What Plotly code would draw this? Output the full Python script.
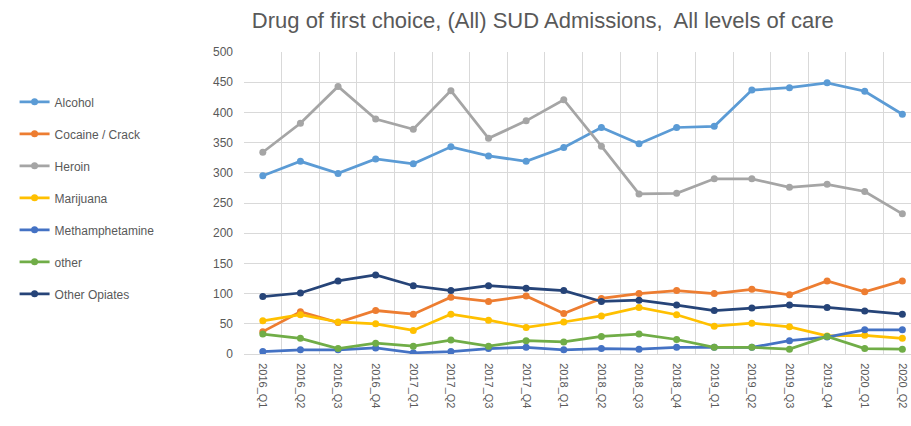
import plotly.graph_objects as go

quarters = ["2016_Q1", "2016_Q2", "2016_Q3", "2016_Q4", "2017_Q1", "2017_Q2",
            "2017_Q3", "2017_Q4", "2018_Q1", "2018_Q2", "2018_Q3", "2018_Q4",
            "2019_Q1", "2019_Q2", "2019_Q3", "2019_Q4", "2020_Q1", "2020_Q2"]

alcohol = [295, 319, 299, 323, 315, 343, 328, 319, 342, 375, 348, 375, 377, 437, 441, 449, 435, 397]
cocaine = [37, 70, 52, 72, 66, 94, 87, 96, 67, 92, 100, 105, 100, 107, 98, 121, 103, 121]
heroin = [334, 382, 443, 389, 372, 436, 357, 386, 421, 344, 265, 266, 290, 290, 276, 281, 269, 232]
marijuana = [55, 65, 53, 50, 39, 66, 56, 44, 53, 63, 77, 65, 46, 51, 45, 30, 31, 26]
meth = [4, 7, 7, 10, 2, 4, 9, 11, 7, 9, 8, 11, 11, 11, 22, 28, 40, 40]
other = [33, 26, 9, 18, 13, 23, 13, 22, 20, 29, 33, 24, 11, 11, 8, 29, 9, 8]
other_opiates = [95, 101, 121, 131, 113, 105, 113, 109, 105, 87, 89, 81, 72, 76, 81, 77, 71, 66]

series = [
    ("Alcohol", alcohol, "#5B9BD5"),
    ("Cocaine / Crack", cocaine, "#ED7D31"),
    ("Heroin", heroin, "#A5A5A5"),
    ("Marijuana", marijuana, "#FFC000"),
    ("Methamphetamine", meth, "#4472C4"),
    ("other", other, "#70AD47"),
    ("Other Opiates", other_opiates, "#264478"),
]

FONT = "Liberation Sans, Arial"
TEXT = "#595959"

fig = go.Figure()
for name, vals, color in series:
    fig.add_trace(go.Scatter(
        x=quarters, y=vals, name=name, mode="lines+markers",
        legendgroup=name,
        line=dict(color=color, width=2.75),
        marker=dict(symbol="circle", size=7, color=color),
    ))

fig.update_layout(
    width=911, height=426,
    margin=dict(l=244, r=0, t=52, b=72),
    paper_bgcolor="white", plot_bgcolor="white",
    font=dict(family=FONT, color=TEXT, size=12),
    title=dict(
        text="Drug of first choice, (All) SUD Admissions,  All levels of care",
        x=0.448, xanchor="center", xref="paper",
        y=0.953, yanchor="middle", yref="container",
        font=dict(family=FONT, size=22, color=TEXT),
    ),
    legend=dict(
        xref="container", yref="container",
        x=0.016, y=0.795, xanchor="left", yanchor="top",
        traceorder="grouped", tracegroupgap=13,
        maxheight=400,
        font=dict(family=FONT, size=12, color=TEXT),
        bgcolor="rgba(0,0,0,0)",
    ),
    showlegend=True,
)

fig.update_xaxes(
    type="category", range=[-0.5, 17.23],
    tickson="boundaries", showgrid=True, gridcolor="#D9D9D9", gridwidth=1,
    ticks="", tickangle=90, tickfont=dict(size=11, color=TEXT),
    ticklabelstandoff=6,
    showline=True, linecolor="#D9D9D9",
)
fig.update_yaxes(
    range=[0, 500], dtick=50, showgrid=True, gridcolor="#D9D9D9", gridwidth=1,
    zeroline=False, ticks="", tickfont=dict(size=12, color=TEXT),
    ticklabelstandoff=10,
)

fig.write_html("out.html")
